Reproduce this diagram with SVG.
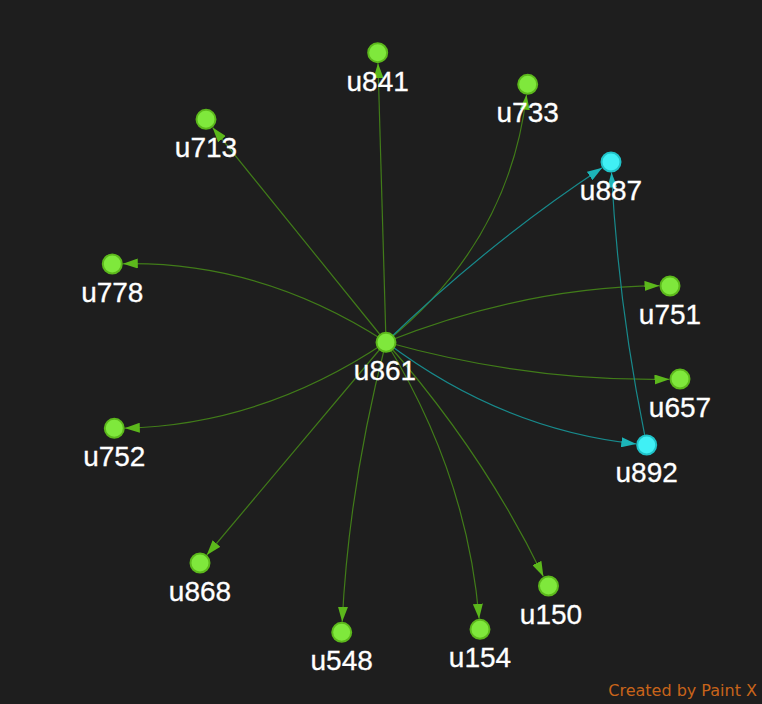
<svg xmlns="http://www.w3.org/2000/svg" width="762" height="704" viewBox="0 0 762 704">
<style>
.g{fill:none;stroke:#417c19;stroke-width:1.2}
.c{fill:none;stroke:#188a8c;stroke-width:1.2}
.g{marker-end:url(#ag)}
.c{marker-end:url(#ac)}
.ng{fill:#7fe83c;stroke:#5cb81c;stroke-width:2}
.nc{fill:#40f0f5;stroke:#20c2c8;stroke-width:2}
.lb{font-family:"Liberation Sans",Arial,sans-serif;font-size:28px;fill:#ffffff;text-anchor:middle;stroke:#ffffff;stroke-width:0.3}
</style>
<defs>
<marker id="ag" viewBox="0 -5 15 10" refX="15" refY="0" markerWidth="15" markerHeight="10" markerUnits="userSpaceOnUse" orient="auto">
<path d="M0,-5L15,0L0,5Z" fill="#5cb81c"/>
</marker>
<marker id="ac" viewBox="0 -5 15 10" refX="15" refY="0" markerWidth="15" markerHeight="10" markerUnits="userSpaceOnUse" orient="auto">
<path d="M0,-5L15,0L0,5Z" fill="#1cb4b8"/>
</marker>
</defs>
<rect width="762" height="704" fill="#1e1e1e"/>
<g id="edges">
<path class="g" d="M386,342 Q382,197 378,63.2"/>
<path class="g" d="M386,342 Q509.4,242 526.5,94.7"/>
<path class="g" d="M386,342 L212.6,127.5"/>
<path class="c" d="M386,342 Q490,241.5 602.2,167.8"/>
<path class="g" d="M386,342 Q261,261 122.8,263.8"/>
<path class="g" d="M386,342 Q522.3,287.5 659.5,285.7"/>
<path class="g" d="M386,342 Q529.6,382 669.5,379.3"/>
<path class="c" d="M386,342 Q502,429.6 636.3,443.9"/>
<path class="g" d="M386,342 Q262.7,425 124.8,428.1"/>
<path class="g" d="M386,342 L206.8,555"/>
<path class="g" d="M386,342 Q349,485 342.2,621.8"/>
<path class="g" d="M386,342 Q467.2,474.5 479.1,618.8"/>
<path class="g" d="M386,342 Q483.7,452.9 543.4,576.5"/>
<path class="c" d="M644.7,435.2 Q618.3,304.8 611.5,172.5"/>
</g>
<g id="n-u841"><circle class="ng" cx="377.7" cy="52.7" r="9.5"/><text class="lb" x="377.7" y="90.5">u841</text></g>
<g id="n-u733"><circle class="ng" cx="527.7" cy="84.3" r="9.5"/><text class="lb" x="527.7" y="122">u733</text></g>
<g id="n-u713"><circle class="ng" cx="206" cy="119.3" r="9.5"/><text class="lb" x="206" y="157">u713</text></g>
<g id="n-u887"><circle class="nc" cx="611" cy="162" r="9.5"/><text class="lb" x="611" y="200">u887</text></g>
<g id="n-u778"><circle class="ng" cx="112.3" cy="264" r="9.5"/><text class="lb" x="112.3" y="302">u778</text></g>
<g id="n-u751"><circle class="ng" cx="670" cy="286" r="9.5"/><text class="lb" x="670" y="324">u751</text></g>
<g id="n-u861"><circle class="ng" cx="386" cy="342.3" r="9.5"/><text class="lb" x="385" y="380">u861</text></g>
<g id="n-u657"><circle class="ng" cx="680" cy="379" r="9.5"/><text class="lb" x="680" y="417">u657</text></g>
<g id="n-u892"><circle class="nc" cx="646.7" cy="445" r="9.5"/><text class="lb" x="646.7" y="482">u892</text></g>
<g id="n-u752"><circle class="ng" cx="114.3" cy="428.3" r="9.5"/><text class="lb" x="114.3" y="466">u752</text></g>
<g id="n-u868"><circle class="ng" cx="200" cy="563" r="9.5"/><text class="lb" x="200" y="601">u868</text></g>
<g id="n-u548"><circle class="ng" cx="341.7" cy="632.3" r="9.5"/><text class="lb" x="341.7" y="670">u548</text></g>
<g id="n-u154"><circle class="ng" cx="480" cy="629.3" r="9.5"/><text class="lb" x="480" y="667">u154</text></g>
<g id="n-u150"><circle class="ng" cx="548.5" cy="586" r="9.5"/><text class="lb" x="551" y="624">u150</text></g>
<text x="757" y="696" font-family="DejaVu Sans, sans-serif" font-size="16" fill="#c8641a" text-anchor="end">Created by Paint X</text>
</svg>
